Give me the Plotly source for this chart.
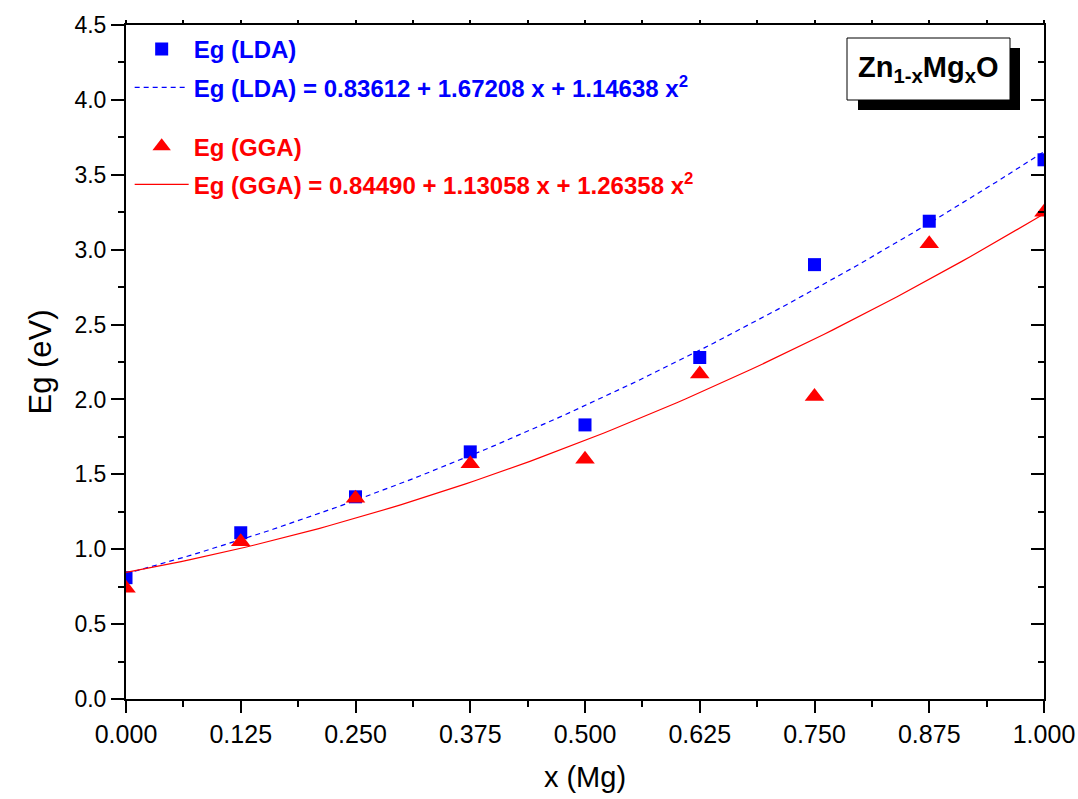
import numpy as np
import plotly.graph_objects as go

# ---- data ----
x_mg = [0.000, 0.125, 0.250, 0.375, 0.500, 0.625, 0.750, 0.875, 1.000]
eg_lda = [0.81, 1.11, 1.35, 1.65, 1.83, 2.28, 2.90, 3.19, 3.60]
eg_gga = [0.74, 1.05, 1.34, 1.57, 1.60, 2.17, 2.02, 3.04, 3.25]

# quadratic fit coefficients printed in the legend (c0, c1, c2)
fit_lda = [0.83612, 1.67208, 1.14638]
fit_gga = [0.84490, 1.13058, 1.26358]

x_ticks = [0, 0.125, 0.25, 0.375, 0.5, 0.625, 0.75, 0.875, 1.0]
x_ticklabels = ["0.000", "0.125", "0.250", "0.375", "0.500", "0.625", "0.750", "0.875", "1.000"]
y_ticks = [0, 0.5, 1.0, 1.5, 2.0, 2.5, 3.0, 3.5, 4.0, 4.5]
y_ticklabels = ["0.0", "0.5", "1.0", "1.5", "2.0", "2.5", "3.0", "3.5", "4.0", "4.5"]

BLUE = "#0000FF"
RED = "#FF0000"
FONT = "Arial, Liberation Sans, sans-serif"

xf = np.linspace(0, 1, 101)
yf_lda = np.polyval(fit_lda[::-1], xf)
yf_gga = np.polyval(fit_gga[::-1], xf)

fig = go.Figure()
fig.add_trace(go.Scatter(
    x=x_mg, y=eg_lda, mode="markers", name="<b>Eg (LDA)</b>",
    marker=dict(symbol="square", size=13, color=BLUE, line=dict(width=0)),
    legend="legend", legendgroup="a"))
fig.add_trace(go.Scatter(
    x=xf, y=yf_lda, mode="lines",
    name="<b>Eg (LDA) = 0.83612 + 1.67208 x + 1.14638 x<sup>2</sup></b>",
    line=dict(color=BLUE, width=1.2, dash="5px,4px"),
    legend="legend", legendgroup="b"))
fig.add_trace(go.Scatter(
    x=x_mg, y=eg_gga, mode="markers", name="<b>Eg (GGA)</b>",
    marker=dict(symbol="triangle-up", size=17, color=RED, line=dict(width=0)),
    legend="legend2", legendgroup="c"))
fig.add_trace(go.Scatter(
    x=xf, y=yf_gga, mode="lines",
    name="<b>Eg (GGA) = 0.84490 + 1.13058 x + 1.26358 x<sup>2</sup></b>",
    line=dict(color=RED, width=1.2),
    legend="legend2", legendgroup="d"))

# invisible trace to anchor the mirror axes
fig.add_trace(go.Scatter(x=[0, 1], y=[0, 0], xaxis="x2", yaxis="y2", mode="markers",
                         marker=dict(opacity=0), showlegend=False, hoverinfo="skip"))

# px -> paper helpers (plot area 126..1044 x 25..699)
def px(v):
    return (v - 126) / 918.0

def py(v):
    return 1 - (v - 25) / 674.0

shapes = [
    dict(type="rect", xref="paper", yref="paper", x0=px(858), x1=px(1020), y0=py(110), y1=py(48),
         fillcolor="black", line=dict(width=0), layer="above"),
    dict(type="rect", xref="paper", yref="paper", x0=px(847), x1=px(1010), y0=py(100), y1=py(38),
         fillcolor="white", line=dict(color="black", width=1), layer="above"),
]

annotations = [
    dict(xref="paper", yref="paper", x=px(928), y=py(69), xanchor="center", yanchor="middle",
         text="<b>Zn<sub>1-x</sub>Mg<sub>x</sub>O</b>", showarrow=False,
         font=dict(family=FONT, size=29, color="black")),
]

axis_common = dict(showgrid=False, zeroline=False, showline=True, linecolor="black", linewidth=2,
                   tickcolor="black", tickwidth=2, automargin=False)

fig.update_layout(
    width=1078, height=799,
    margin=dict(l=126, r=34, t=25, b=100),
    paper_bgcolor="white", plot_bgcolor="white",
    font=dict(family=FONT, color="black"),
    showlegend=True,
    xaxis=dict(**axis_common, range=[0, 1], tickmode="array", tickvals=x_ticks, ticktext=x_ticklabels,
               ticks="outside", ticklen=12,
               minor=dict(tickmode="linear", tick0=0, dtick=0.0625, ticks="outside", ticklen=6,
                          tickcolor="black", tickwidth=2),
               tickfont=dict(family=FONT, size=25),
               title=dict(text="x (Mg)", font=dict(family=FONT, size=29), standoff=20)),
    yaxis=dict(**axis_common, range=[0, 4.5], tickmode="array", tickvals=y_ticks, ticktext=y_ticklabels,
               ticks="outside", ticklen=13,
               minor=dict(tickmode="linear", tick0=0, dtick=0.25, ticks="outside", ticklen=6,
                          tickcolor="black", tickwidth=2),
               tickfont=dict(family=FONT, size=23),
               title=dict(text="Eg (eV)", font=dict(family=FONT, size=31), standoff=14)),
    xaxis2=dict(**axis_common, overlaying="x", side="top", range=[0, 1], tickmode="linear", tick0=0,
                dtick=0.0625, ticks="outside", ticklen=3, showticklabels=False),
    yaxis2=dict(**axis_common, overlaying="y", side="right", range=[0, 4.5], tickmode="linear", tick0=0,
                dtick=0.5, ticks="inside", ticklen=13, showticklabels=False,
                minor=dict(tickmode="linear", tick0=0, dtick=0.25, ticks="inside", ticklen=6,
                           tickcolor="black", tickwidth=2)),
    legend=dict(x=0.004, y=0.997, xanchor="left", yanchor="top", bgcolor="rgba(0,0,0,0)",
                font=dict(family=FONT, size=24, color=BLUE), tracegroupgap=4, itemwidth=54),
    legend2=dict(x=0.004, y=0.853, xanchor="left", yanchor="top", bgcolor="rgba(0,0,0,0)",
                 font=dict(family=FONT, size=24, color=RED), tracegroupgap=4, itemwidth=54),
    shapes=shapes,
    annotations=annotations,
)

fig.write_html("out.html")
